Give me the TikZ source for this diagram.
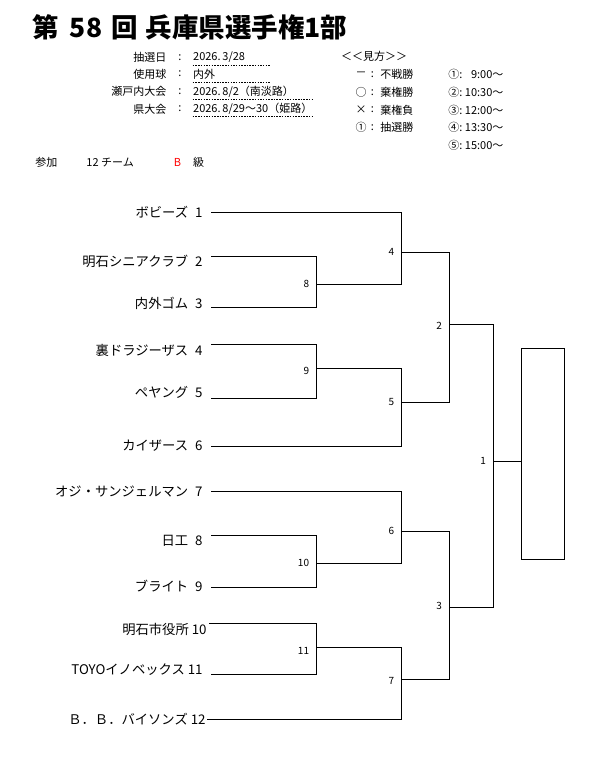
\documentclass[tikz,border=0pt]{standalone}
\usepackage{fontspec}
\setmainfont{Noto Sans CJK JP}
\usetikzlibrary{positioning}
\tikzset{team/.style={font=\fontsize{13.3}{15}\selectfont,inner sep=0pt},
	match/.style={font=\fontsize{10}{11}\selectfont,inner sep=0pt},
	info/.style={font=\fontsize{11}{13}\selectfont,inner sep=0pt}}
\newcommand{\gap}{\hspace{7pt}}

\begin{document}
\begin{tikzpicture}[x=1pt,y=-1pt,line width=0.9pt,node distance=8pt]
	\tikzstyle{uline}=[line width=0.8pt,dash pattern=on 1.5pt off 1.2pt]
	\useasboundingbox (0,0) rectangle (605,779);
	
	% header
	\node[anchor=west,inner sep=0pt,font=\fontsize{26.5}{28}\selectfont\bfseries] (title) at (32,27) {第\hspace{11pt}58\hspace{9pt}回\hspace{8pt}兵庫県選手権1部};
	
	\node[info,anchor=east] (k1) at (166.7,57.3) {抽選日};
	\node[info,anchor=east] (k2) at (166.7,74) {使用球};
	\node[info,anchor=east] (k3) at (166.7,91.7) {瀬戸内大会};
	\node[info,anchor=east] (k4) at (166.7,109) {県大会};
	\node[info] (c1) at (180,57.3) {:};
	\node[info] (c2) at (180,74) {:};
	\node[info] (c3) at (180,91.7) {:};
	\node[info] (c4) at (180,109) {:};
	\node[info,anchor=west] (v1) at (192.7,57.3) {2026.\,3/28};
	\node[info,anchor=west] (v2) at (192.7,74) {内外};
	\node[info,anchor=west] (v3) at (192.7,91.7) {2026.\,8/2（南淡路）};
	\node[info,anchor=west] (v4) at (192.7,109) {2026.\,8/29～30（姫路）};
	\draw[uline] (192.7,65) -- (270.7,65);
	\draw[uline] (192.7,82) -- (270.7,82);
	\draw[uline] (192.7,99) -- (313.3,99);
	\draw[uline] (192.7,116) -- (313.3,116);
	
	\node[info,anchor=west] (key) at (340.7,56.7) {＜＜見方＞＞};
	\node[info] (g1) at (361,74.3) {－};
	\node[info] (g2) at (361,92.3) {○};
	\node[info] (g3) at (361,110) {×};
	\node[info] (g4) at (361,127.3) {①};
	\node[info] (d1) at (372.5,74.3) {:};
	\node[info] (d2) at (372.5,92.3) {:};
	\node[info] (d3) at (372.5,110) {:};
	\node[info] (d4) at (372.5,127.3) {:};
	\node[info,anchor=west] (e1) at (380,74.3) {不戦勝};
	\node[info,anchor=west] (e2) at (380,92.3) {棄権勝};
	\node[info,anchor=west] (e3) at (380,110) {棄権負};
	\node[info,anchor=west] (e4) at (380,127.3) {抽選勝};
	\node[info,anchor=west] (h1) at (448,74.3) {①:\ \hphantom{1}9:00～};
	\node[info,anchor=west] (h2) at (448,92.3) {②:\ 10:30～};
	\node[info,anchor=west] (h3) at (448,110) {③:\ 12:00～};
	\node[info,anchor=west] (h4) at (448,127.3) {④:\ 13:30～};
	\node[info,anchor=west] (h5) at (448,145.7) {⑤:\ 15:00～};
	
	\node[info,anchor=west] (p1) at (35,162.3) {参加};
	\node[info,anchor=west] (p2) at (86,162.3) {12 チーム};
	\node[info,anchor=west,text=red] (p3) at (173.3,162.3) {B};
	\node[info,anchor=west] (p4) at (192.7,162.3) {級};
	
	% teams
	\coordinate (s1) at (211,212.3);
	\coordinate (s2) at (211,256);
	\coordinate (s3) at (211,307.7);
	\coordinate (s4) at (211,344);
	\coordinate (s5) at (211,398);
	\coordinate (s6) at (211,446);
	\coordinate (s7) at (211,491.7);
	\coordinate (s8) at (211,535.7);
	\coordinate (s9) at (211,587.3);
	\coordinate (s10) at (209,623.7);
	\coordinate (s11) at (211,674.7);
	\coordinate (s12) at (207,719);
	
	\node[team,left=of s1] (t1) {ボビーズ\gap 1};
	\node[team,left=of s2,yshift=-5.5pt] (t2) {明石シニアクラブ\gap 2};
	\node[team,left=of s3,yshift=4.5pt] (t3) {内外ゴム\gap 3};
	\node[team,left=of s4,yshift=-6pt] (t4) {裏ドラジーザス\gap 4};
	\node[team,left=of s5,yshift=6pt] (t5) {ペヤング\gap 5};
	\node[team,left=of s6] (t6) {カイザース\gap 6};
	\node[team,left=of s7] (t7) {オジ・サンジェルマン\gap 7};
	\node[team,left=of s8,yshift=-5pt] (t8) {日工\gap 8};
	\node[team,left=of s9,yshift=1.5pt] (t9) {ブライト\gap 9};
	\node[team,left=2pt of s10,yshift=-5.5pt] (t10) {明石市役所 10};
	\node[team,left=of s11,yshift=4.7pt] (t11) {TOYOイノベックス 11};
	\node[team,left=1pt of s12] (t12) {Ｂ．Ｂ．バイソンズ 12};
	
	% matches
	\coordinate (j8) at (316.5,284);
	\coordinate (j9) at (316.5,368.3);
	\coordinate (j10) at (316.5,563);
	\coordinate (j11) at (316.5,647.3);
	\coordinate (j4) at (401.5,252.3);
	\coordinate (j5) at (401.5,402.3);
	\coordinate (j6) at (401.5,531);
	\coordinate (j7) at (401.5,679);
	\coordinate (j2) at (449.3,324.3);
	\coordinate (j3) at (449.3,607);
	\coordinate (j1) at (493.3,461.3);
	
	\node[match,left=7pt of j8] (m8) {8};
	\node[match,left=7pt of j9,yshift=-3pt] (m9) {9};
	\node[match,left=7pt of j10] (m10) {10};
	\node[match,left=7pt of j11,yshift=-4pt] (m11) {11};
	\node[match,left=7pt of j4] (m4) {4};
	\node[match,left=7pt of j5] (m5) {5};
	\node[match,left=7pt of j6] (m6) {6};
	\node[match,left=7pt of j7,yshift=-1.5pt] (m7) {7};
	\node[match,left=7pt of j2,yshift=-2pt] (m2) {2};
	\node[match,left=7pt of j3,yshift=1pt] (m3) {3};
	\node[match,left=7pt of j1] (m1) {1};
	
	\node[draw,minimum width=43pt,minimum height=210.7pt,anchor=north west] (win) at (521.3,348.3) {};
	
	\draw (s2) -| (j8) |- (s3);
	\draw (s4) -| (j9) |- (s5);
	\draw (s8) -| (j10) |- (s9);
	\draw (s10) -| (j11) |- (s11);
	\draw (s1) -| (j4) |- (j8);
	\draw (j9) -| (j5) |- (s6);
	\draw (s7) -| (j6) |- (j10);
	\draw (j11) -| (j7) |- (s12);
	\draw (j4) -| (j2) |- (j5);
	\draw (j6) -| (j3) |- (j7);
	\draw (j2) -| (j1) |- (j3);
	\draw (j1) -- (j1 -| win.west);
\end{tikzpicture}
\end{document}
